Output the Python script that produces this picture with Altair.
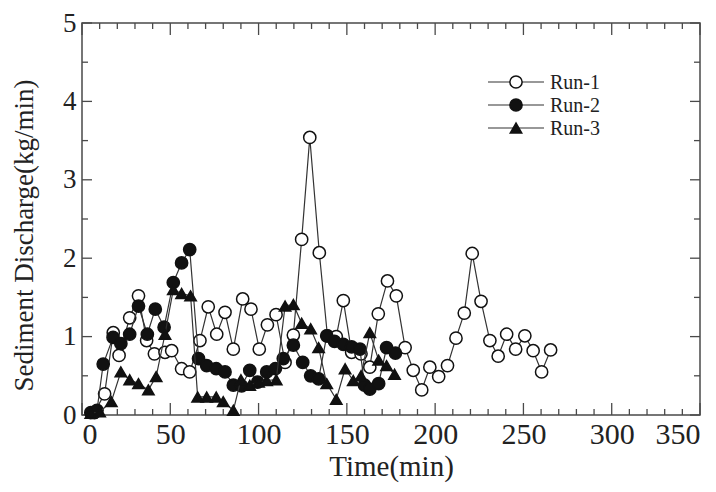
import altair as alt
import pandas as pd

# ---------------- data ----------------
run1_t = [7, 12.8, 17.7, 21, 27, 32, 36.6, 41, 47, 50.8, 56.4, 61, 66.8, 71.5, 76.3, 81, 85.7, 91,
          95.7, 100.4, 105, 109.9, 115, 119.7, 124.4, 129, 134.4, 139, 144, 148, 152.7, 158, 163,
          167.8, 173, 178, 183, 187.6, 192.4, 197, 202, 207, 211.8, 216.5, 221, 226, 231, 235.7,
          240.5, 245.6, 250.8, 255.5, 260.3, 265.4]
run1_v = [0.03, 0.27, 1.05, 0.76, 1.24, 1.52, 0.95, 0.78, 0.8, 0.82, 0.59, 0.55, 0.95, 1.38, 1.03,
          1.31, 0.84, 1.48, 1.35, 0.84, 1.15, 1.28, 0.67, 1.02, 2.24, 3.54, 2.07, 1.01, 1.0, 1.46,
          0.8, 0.78, 0.61, 1.29, 1.71, 1.52, 0.86, 0.57, 0.32, 0.61, 0.49, 0.63, 0.98, 1.3, 2.06,
          1.45, 0.95, 0.75, 1.03, 0.84, 1.01, 0.82, 0.55, 0.83]

run2_t = [5, 8.5, 12, 17.6, 22, 27, 32, 37, 41.5, 46.5, 51.7, 56.4, 61, 66, 70.6, 76, 81, 85.7,
          90.4, 95, 99.5, 104.6, 109.5, 114, 119.7, 125, 129.5, 134, 138.6, 143, 148, 152.7, 157.4,
          160, 163, 168, 172.5, 177.5]
run2_v = [0.03, 0.06, 0.65, 0.99, 0.91, 1.03, 1.39, 1.03, 1.35, 1.12, 1.69, 1.94, 2.11, 0.72, 0.63,
          0.59, 0.55, 0.38, 0.37, 0.57, 0.42, 0.55, 0.59, 0.72, 0.89, 0.67, 0.5, 0.46, 1.01, 0.94,
          0.9, 0.87, 0.84, 0.38, 0.33, 0.4, 0.86, 0.79]

run3_t = [5, 10, 16.6, 22, 27, 32, 37.6, 42, 47, 51.7, 56.4, 61.5, 65.5, 70.6, 76, 80, 85.7, 90,
          95, 100, 104.6, 110, 115, 119.7, 124.4, 129.5, 134, 138.6, 144, 149, 153.6, 158, 163,
          168, 172.5, 177]
run3_v = [0.02, 0.04, 0.17, 0.55, 0.45, 0.4, 0.32, 0.49, 1.03, 1.6, 1.55, 1.52, 0.23, 0.23, 0.23,
          0.17, 0.06, 0.45, 0.38, 0.42, 0.44, 0.45, 1.39, 1.41, 1.17, 1.1, 0.86, 0.4, 0.2, 0.59,
          0.44, 0.5, 1.05, 0.7, 0.63, 0.52]

series_names = ["Run-1", "Run-2", "Run-3"]

x_major = [0, 50, 100, 150, 200, 250, 300, 350]
x_minor = [t for t in range(10, 350, 10) if t % 50 != 0]
y_major = [0, 1, 2, 3, 4, 5]
y_minor = [0.5, 1.5, 2.5, 3.5, 4.5]

# ---------------- layout ----------------
W, H = 618, 392
FONT = "Liberation Serif"
INK = "#222222"
AX = "#4a4a4a"

xs = alt.Scale(domain=[0, 350], nice=False, zero=False)
ys = alt.Scale(domain=[0, 5], nice=False)

x_axis = alt.Axis(values=x_major, ticks=False, domain=False, grid=False,
                  labelFontSize=30, labelFont=FONT, labelColor=INK, labelPadding=4,
                  title="Time(min)", titleFont=FONT, titleFontSize=29,
                  titleFontWeight="normal", titleColor=INK, titlePadding=3)
y_axis = alt.Axis(values=y_major, ticks=False, domain=False, grid=False,
                  labelFontSize=27, labelFont=FONT, labelColor=INK, labelPadding=6,
                  title="Sediment Discharge(kg/min)", titleFont=FONT, titleFontSize=27,
                  titleFontWeight="normal", titleColor=INK, titlePadding=24,
                  titleY=212)

XE = alt.X("time:Q", scale=xs, axis=x_axis, title="Time(min)")
YE = alt.Y("q:Q", scale=ys, axis=y_axis, title="Sediment Discharge(kg/min)")


def frame(name, t, v):
    return pd.DataFrame({"time": t, "q": v, "run": name})


d1 = frame(series_names[0], run1_t, run1_v)
d2 = frame(series_names[1], run2_t, run2_v)
d3 = frame(series_names[2], run3_t, run3_v)


def run_layer(df, shape, fill, size):
    base = alt.Chart(df).encode(x=XE, y=YE)
    line = base.mark_line(color="#333333", strokeWidth=1.2)
    pts = base.mark_point(shape=shape, filled=True, fill=fill, stroke="#111111",
                          strokeWidth=1.5, size=size, opacity=1)
    return line + pts


l1 = run_layer(d1, "circle", "white", 150)
l2 = run_layer(d2, "circle", "#111111", 150)
l3 = run_layer(d3, "triangle-up", "#111111", 130)

# ---------------- inside ticks on all four sides ----------------
tx_maj = pd.DataFrame({"time": x_major})
tx_min = pd.DataFrame({"time": x_minor})
ty_maj = pd.DataFrame({"q": y_major})
ty_min = pd.DataFrame({"q": y_minor})


def xticks(df, length):
    b = alt.Chart(df).mark_rule(color=AX, strokeWidth=1.3)
    return (b.encode(x=XE, y=alt.value(H), y2=alt.value(H - length)) +
            b.encode(x=XE, y=alt.value(0), y2=alt.value(length)))


def yticks(df, length):
    b = alt.Chart(df).mark_rule(color=AX, strokeWidth=1.3)
    return (b.encode(y=YE, x=alt.value(0), x2=alt.value(length)) +
            b.encode(y=YE, x=alt.value(W), x2=alt.value(W - length)))


ticks = xticks(tx_maj, 12) + xticks(tx_min, 6) + yticks(ty_maj, 10) + yticks(ty_min, 6)

# ---------------- legend (drawn inside the plot) ----------------
one = pd.DataFrame({"k": [0]})
leg_rows = [59, 82, 105]
leg_fill = ["white", "#111111", "#111111"]
leg_shape = ["circle", "circle", "triangle-up"]
leg_size = [150, 150, 130]
legend = None
for i in range(3):
    yy = leg_rows[i]
    ln = alt.Chart(one).mark_rule(color="#333333", strokeWidth=1.2).encode(
        x=alt.value(406), x2=alt.value(462), y=alt.value(yy))
    mk = alt.Chart(one).mark_point(shape=leg_shape[i], filled=True, fill=leg_fill[i],
                                   stroke="#111111", strokeWidth=1.5, size=leg_size[i],
                                   opacity=1).encode(x=alt.value(434), y=alt.value(yy))
    tx = alt.Chart(one).mark_text(text=series_names[i], font=FONT, fontSize=20, color=INK,
                                  align="left", baseline="middle").encode(
        x=alt.value(468), y=alt.value(yy + 1))
    layer = ln + mk + tx
    legend = layer if legend is None else legend + layer

chart = alt.layer(l1, ticks, l2, l3, legend).properties(
    width=W, height=H,
    autosize=alt.AutoSizeParams(type="none"),
    padding={"left": 74, "top": 15, "right": 8, "bottom": 68},
    background="white",
).configure_view(stroke=AX, strokeWidth=1.5)

chart.save("out.html", embed_options={"renderer": "svg", "actions": False})
